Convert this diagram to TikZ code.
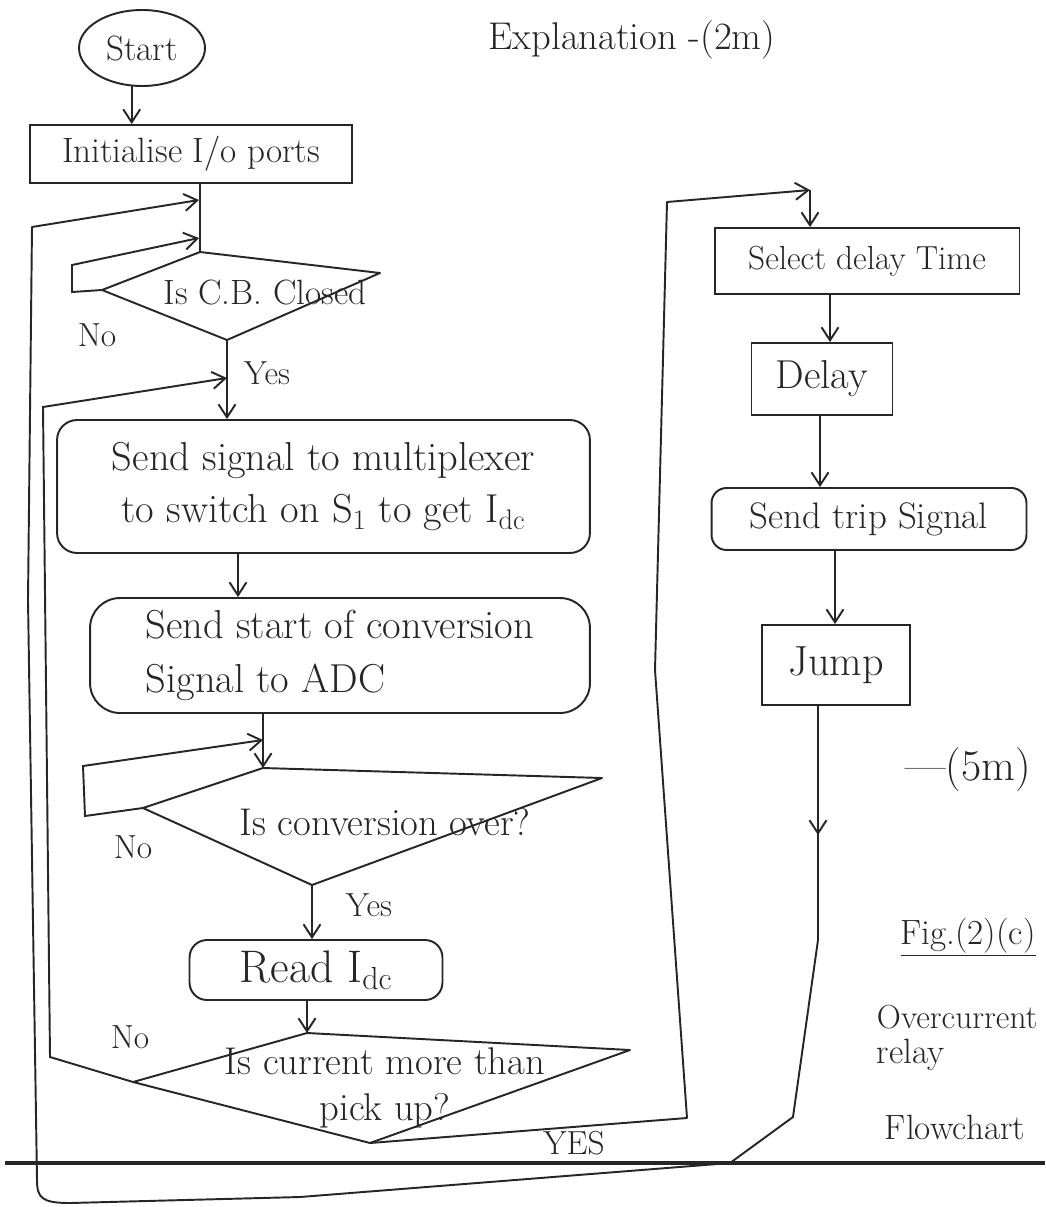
\documentclass[tikz,border=0pt]{standalone}
\usepackage{fontspec}
\usetikzlibrary{arrows.meta,shapes.geometric}
\newcommand\fsz[2]{\fontsize{#1}{#2}\selectfont}
\begin{document}
\begin{tikzpicture}[x=0.02cm,y=-0.02cm,line width=1.1pt,color=black!85,
  arr/.style={-{Straight Barb[length=2.6mm,width=3.4mm]}},
  box/.style={draw,inner sep=0pt,align=center},
  rbox/.style={box,rounded corners=#1},
  txt/.style={inner sep=0pt,align=center},
  lbl/.style={inner sep=0pt,font=\fsz{19pt}{22pt}},
  dec/.style={line join=round}]
\useasboundingbox (0,0) rectangle (1045,1207);

% ---------- process boxes ----------
\node[draw,ellipse,minimum width=2.52cm,minimum height=1.52cm,inner sep=0pt,font=\fsz{20pt}{24pt}] (start) at (142,48) {Start};
\node[box,minimum width=6.44cm,minimum height=1.16cm,font=\fsz{20pt}{24pt}] (init) at (191,154) {Initialise I/o ports};
\node[rbox=0.4cm,minimum width=10.66cm,minimum height=2.66cm,font=\fsz{23pt}{30pt}] (mux) at (323.5,486.5) {Send signal to multiplexer\\to switch on S\textsubscript{1} to get I\textsubscript{dc}};
\node[rbox=0.6cm,minimum width=10cm,minimum height=2.3cm,font=\fsz{23pt}{31pt},align=left] (adc) at (340,655.5) {Send start of conversion\\Signal to ADC};
\node[rbox=0.35cm,minimum width=5.06cm,minimum height=1.2cm,font=\fsz{26pt}{30pt}] (read) at (316,970) {Read I\textsubscript{dc}};
\node[box,minimum width=6.1cm,minimum height=1.32cm,font=\fsz{19pt}{23pt}] (select) at (867,261) {Select delay Time};
\node[box,minimum width=2.82cm,minimum height=1.44cm,font=\fsz{23pt}{27pt}] (delay) at (822,379) {Delay};
\node[rbox=0.3cm,minimum width=6.3cm,minimum height=1.24cm,font=\fsz{21pt}{25pt}] (trip) at (869,519) {Send trip Signal};
\node[box,minimum width=2.96cm,minimum height=1.6cm,font=\fsz{24pt}{28pt}] (jump) at (836,665) {Jump};

% ---------- decisions ----------
\coordinate (d1l) at (102,290); \coordinate (d1t) at (200,252);
\coordinate (d1r) at (380,273); \coordinate (d1b) at (227,340);
\draw[dec] (d1l) -- (d1t) -- (d1r) -- (d1b) -- cycle;
\node[txt,font=\fsz{20pt}{24pt}] (d1) at (265,292) {Is C.B. Closed};

\coordinate (d2l) at (143,808); \coordinate (d2t) at (263,768);
\coordinate (d2r) at (602,778); \coordinate (d2b) at (312,885);
\draw[dec] (d2l) -- (d2t) -- (d2r) -- (d2b) -- cycle;
\node[txt,font=\fsz{22pt}{26pt}] (d2) at (385,822) {Is conversion over?};

\coordinate (d3l) at (133,1082); \coordinate (d3t) at (307,1033);
\coordinate (d3r) at (630,1050); \coordinate (d3b) at (370,1143);
\draw[dec] (d3l) -- (d3t) -- (d3r) -- (d3b) -- cycle;
\node[txt,font=\fsz{22pt}{26pt}] (d3) at (385,1088) {Is current more than\\pick up?};

% ---------- helper x positions / junctions ----------
\coordinate (xa) at (238,0);
\coordinate (xb) at (830,0);
\coordinate (xc) at (820,0);
\coordinate (xd) at (835,0);
\coordinate (xe) at (818,0);
\coordinate (j0) at (199,200);
\coordinate (j1) at (199,238);
\coordinate (j2) at (227,378);
\coordinate (j3) at (263,740);
\coordinate (s0) at (810,190);

% ---------- main flow ----------
\draw[arr] (start.255) -- (start.255 |- init.north);
\draw (init.south -| d1t) -- (d1t);
\draw[arr] (d1b) -- (d1b |- mux.north);
\draw[arr] (mux.south -| xa) -- (adc.north -| xa);
\draw[arr] (adc.south -| d2t) -- (d2t);
\draw[arr] (d2b) -- (d2b |- read.north);
\draw[arr] (read.south -| d3t) -- (d3t);
\draw[arr] (select.south -| xb) -- (delay.north -| xb);
\draw[arr] (delay.south -| xc) -- (trip.north -| xc);
\draw[arr] (trip.south -| xd) -- (jump.north -| xd);

% ---------- loops ----------
\draw[arr] (d1l) -- (72,292) -- (72,265) -- (j1);
\draw[arr] (d2l) -- (85,816) -- (83,766) -- (j3);
\draw[arr] (d3l) -- (50,1057) -- (43,407) -- (j2);
\draw[arr] (jump.south -| xe) -- (818,835);
\draw[arr,line join=round] (818,830) -- (818,940) -- (793,1117) -- (730,1163) -- (300,1197) -- (70,1203)
   .. controls (42,1203) and (37,1198) .. (37,1180) -- (28,600) -- (32,227) -- (j0);
\draw[arr,line join=round] (d3b) -- (687,1118) -- (655,670) -- (667,202) -- (s0);
\draw[arr] (s0) -- (s0 |- select.north);

% ---------- labels ----------
\node[lbl] (no1) at (97,335) {No};
\node[lbl] (yes1) at (267,373) {Yes};
\node[lbl] (no2) at (133,847) {No};
\node[lbl] (yes2) at (369,905) {Yes};
\node[lbl] (no3) at (130,1037) {No};
\node[lbl] (yes3) at (574,1143) {YES};

% ---------- annotations ----------
\node[txt,font=\fsz{22pt}{26pt}] (expl) at (632,40) {Explanation -(2m)};
\node[txt,font=\fsz{25pt}{29pt}] (five) at (968,770) {---(5m)};
\node[txt,font=\fsz{20pt}{24pt}] (fig) at (968,937) {\underline{Fig.(2)(c)}};
\node[txt,anchor=west,font=\fsz{19pt}{23pt}] (oc) at (876,1017) {Overcurrent};
\node[txt,anchor=west,font=\fsz{20pt}{24pt}] (rl) at (876,1055) {relay};
\node[txt,anchor=west,font=\fsz{20pt}{24pt}] (fc) at (884,1127) {Flowchart};

% page rule
\draw[line width=2.6pt] (5,1163) -- (1045,1163);
\end{tikzpicture}
\end{document}
